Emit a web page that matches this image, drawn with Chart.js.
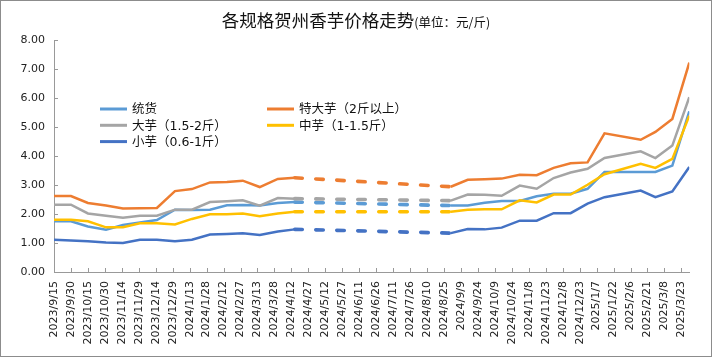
<!DOCTYPE html>
<html><head><meta charset="utf-8">
<script src="https://cdn.jsdelivr.net/npm/chart.js@4.4.1/dist/chart.umd.min.js"></script>
<style>html,body{margin:0;padding:0;background:#fff;}#wrap{width:712px;height:357px;}</style>
</head><body><div id="wrap"><canvas id="c" width="712" height="357"></canvas></div>
<script>
// ---- data ----
const tickLabels = ['2023/9/15','2023/9/30','2023/10/15','2023/10/30','2023/11/14','2023/11/29','2023/12/14','2023/12/29','2024/1/13','2024/1/28','2024/2/12','2024/2/27','2024/3/13','2024/3/28','2024/4/12','2024/4/27','2024/5/12','2024/5/27','2024/6/11','2024/6/26','2024/7/11','2024/7/26','2024/8/10','2024/8/25','2024/9/9','2024/9/24','2024/10/9','2024/10/24','2024/11/8','2024/11/23','2024/12/8','2024/12/23','2025/1/7','2025/1/22','2025/2/6','2025/2/21','2025/3/8','2025/3/23'];
const dates = ['2023/9/15','2023/9/30','2023/10/15','2023/10/31','2023/11/15','2023/11/30','2023/12/15','2023/12/31','2024/1/15','2024/1/31','2024/2/15','2024/2/29','2024/3/15','2024/3/31','2024/4/15','2024/8/31','2024/9/15','2024/9/30','2024/10/15','2024/10/31','2024/11/15','2024/11/30','2024/12/15','2024/12/30','2025/1/14','2025/2/15','2025/2/28','2025/3/15','2025/3/30'];
const tonghuo = [1.75,1.75,1.57,1.46,1.62,1.71,1.79,2.15,2.14,2.15,2.30,2.31,2.29,2.38,2.41,2.29,2.29,2.39,2.45,2.45,2.61,2.70,2.70,2.87,3.45,3.45,3.45,3.67,5.54];
const tedayu  = [2.62,2.62,2.38,2.29,2.19,2.20,2.21,2.79,2.86,3.09,3.10,3.15,2.93,3.21,3.25,2.94,3.18,3.20,3.22,3.35,3.34,3.59,3.75,3.78,4.78,4.56,4.83,5.28,7.22];
const dayu    = [2.32,2.32,2.02,1.94,1.87,1.94,1.94,2.15,2.15,2.41,2.44,2.47,2.29,2.55,2.53,2.46,2.67,2.66,2.63,2.98,2.87,3.24,3.43,3.56,3.93,4.16,3.93,4.36,6.03];
const zhongyu = [1.80,1.80,1.75,1.54,1.54,1.68,1.68,1.64,1.83,1.99,1.99,2.02,1.92,2.02,2.08,2.08,2.15,2.16,2.16,2.47,2.40,2.67,2.67,3.01,3.37,3.73,3.59,3.90,5.39];
const xiaoyu  = [1.11,1.09,1.06,1.02,1.00,1.11,1.11,1.06,1.11,1.29,1.31,1.34,1.28,1.40,1.47,1.34,1.48,1.47,1.53,1.77,1.77,2.03,2.03,2.36,2.58,2.81,2.58,2.78,3.62];
const seriesNames = ['统货','特大芋（2斤以上）','大芋（1.5-2斤）','中芋（1-1.5斤）','小芋（0.6-1斤）'];
const seriesColors = ['#5B9BD5','#ED7D31','#A5A5A5','#FFC000','#4472C4'];
const titleText = '各规格贺州香芋价格走势';
const unitText = '(单位：元/斤)';

// ---- helpers ----
function dayOf(s){const [y,m,d]=s.split('/').map(Number);return Date.UTC(y,m-1,d)/86400000;}
const base = dayOf(tickLabels[0]);
const rel = s => dayOf(s) - base;
const seriesValues = [tonghuo, tedayu, dayu, zhongyu, xiaoyu];
const axisColor = '#999999';
const textColor = '#222222';
const numFont = 'DejaVu Sans';
const cjkFont = '"DejaVu Sans","Noto Sans CJK SC"';

function isGap(ctx){
  return rel(dates[ctx.p1DataIndex]) - rel(dates[ctx.p0DataIndex]) > 45;
}

const datasets = seriesValues.map((vals, i) => ({
  label: seriesNames[i],
  data: vals.map((v, k) => ({x: rel(dates[k]), y: v})),
  borderColor: seriesColors[i],
  backgroundColor: seriesColors[i],
  borderWidth: 2.5,
  pointRadius: 0,
  tension: 0,
  fill: false,
  order: -i,
  segment: {
    borderDash: ctx => isGap(ctx) ? [7.5, 13.5] : undefined,
    borderWidth: ctx => isGap(ctx) ? 3.6 : undefined,
    borderCapStyle: ctx => isGap(ctx) ? 'round' : undefined
  }
}));

const framePlugin = {
  id: 'frame',
  beforeDraw(chart){
    const c = chart.ctx; c.save(); c.fillStyle = '#fff'; c.fillRect(0,0,chart.width,chart.height); c.restore();
  },
  afterDraw(chart){
    const c = chart.ctx; c.save();
    c.strokeStyle = '#8c8c8c'; c.lineWidth = 1;
    c.strokeRect(0.5,0.5,chart.width-1,chart.height-1);
    // inner tick marks
    const xs = chart.scales.x, ys = chart.scales.y;
    c.strokeStyle = axisColor; c.beginPath();
    xs.ticks.forEach((t,i)=>{const px=Math.round(xs.getPixelForTick(i))+0.5; c.moveTo(px, ys.bottom); c.lineTo(px, ys.bottom-4);});
    ys.ticks.forEach((t,i)=>{const py=Math.round(ys.getPixelForTick(i))+0.5; c.moveTo(xs.left, py); c.lineTo(xs.left+4, py);});
    c.stroke();
    // title
    c.fillStyle = '#111'; c.textBaseline = 'alphabetic'; c.textAlign = 'left';
    const f1 = '17.5px "Noto Sans CJK SC"', f2 = '12.5px "Noto Sans CJK SC"';
    c.font = f1; const w1 = c.measureText(titleText).width;
    c.font = f2; const w2 = c.measureText(unitText).width;
    const x0 = chart.width/2 - (w1+w2)/2;
    c.font = f1; c.fillText(titleText, x0, 27);
    c.font = f2; c.fillText(unitText, x0 + w1, 27);
    // legend (two columns)
    const cols = [100, 267], rows = [109, 125.3, 141.6];
    chart.data.datasets.forEach((ds, i) => {
      const x = cols[i % 2], y = rows[Math.floor(i / 2)];
      c.strokeStyle = ds.borderColor; c.lineWidth = 3; c.setLineDash([]);
      c.beginPath(); c.moveTo(x, y); c.lineTo(x + 27, y); c.stroke();
      c.fillStyle = '#111'; c.font = '12.5px ' + cjkFont; c.textBaseline = 'middle';
      c.fillText(ds.label, x + 32, y + 1);
    });
    c.restore();
  }
};

new Chart(document.getElementById('c'), {
  type: 'line',
  data: { datasets },
  options: {
    responsive: false, animation: false, devicePixelRatio: 1,
    layout: { padding: { top: 40, left: 10, right: 22.7, bottom: 0 } },
    plugins: { legend: { display: false }, title: { display: false }, tooltip: { enabled: false } },
    scales: {
      x: {
        type: 'linear', min: 0, max: rel(dates[dates.length - 1]),
        grid: { display: false, drawTicks: false },
        border: { display: true, color: axisColor, width: 1 },
        afterBuildTicks: s => { s.ticks = tickLabels.map(l => ({ value: rel(l) })); },
        afterFit: s => { s.height = 85; },
        ticks: { autoSkip: false, minRotation: 90, maxRotation: 90, padding: 9, color: textColor,
          font: { family: numFont, size: 11 }, callback: (v, i) => tickLabels[i] }
      },
      y: {
        min: 0, max: 8,
        grid: { display: false, drawTicks: false },
        border: { display: true, color: axisColor, width: 1 },
        afterFit: s => { s.width = 44; },
        ticks: { stepSize: 1, padding: 9, color: textColor, font: { family: numFont, size: 11 },
          callback: v => Number(v).toFixed(2) }
      }
    }
  },
  plugins: [framePlugin]
});
</script>
</body></html>
